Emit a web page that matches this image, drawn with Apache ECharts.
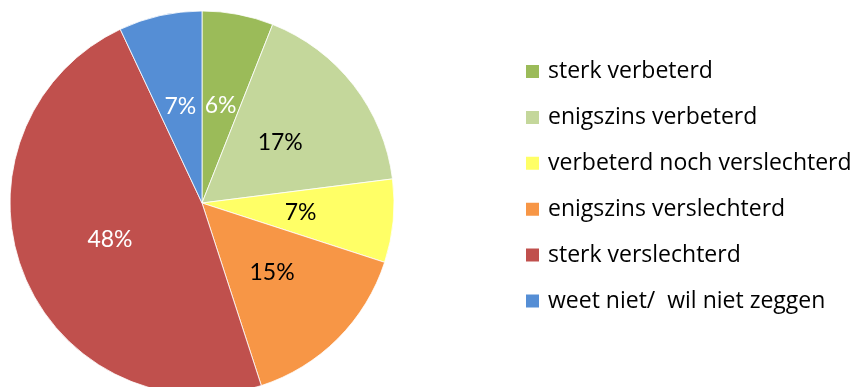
<!DOCTYPE html>
<html>
<head>
<meta charset="utf-8">
<script src="https://cdn.jsdelivr.net/npm/echarts@6/dist/echarts.min.js"></script>
<style>
  html, body { margin: 0; padding: 0; background: #fff; }
  #chart { width: 859px; height: 387px; }
</style>
</head>
<body>
<div id="chart"></div>
<script>
// Answer categories and their shares (percent)
const categories = [
  'sterk verbeterd',
  'enigszins verbeterd',
  'verbeterd noch verslechterd',
  'enigszins verslechterd',
  'sterk verslechterd',
  'weet niet/  wil niet zeggen'
];
const values = [6, 17, 7, 15, 48, 7];
const colors = ['#9bbb59', '#c4d79b', '#ffff66', '#f79646', '#c0504d', '#558ed5'];
const labelColors = ['#ffffff', '#000000', '#000000', '#000000', '#ffffff', '#ffffff'];

const data = categories.map((name, i) => ({
  name: name,
  value: values[i],
  itemStyle: { color: colors[i] },
  label: { color: labelColors[i] }
}));

const chart = echarts.init(document.getElementById('chart'));
chart.setOption({
  animation: false,
  legend: {
    orient: 'vertical',
    left: 524,
    top: 59.5,
    padding: 0,
    icon: 'rect',
    itemWidth: 15,
    itemHeight: 15,
    itemGap: 21.9,
    textStyle: {
      fontFamily: 'Open Sans',
      fontSize: 23,
      lineHeight: 24,
      color: '#000',
      padding: [0, 0, 0, 3]
    },
    data: categories
  },
  series: [{
    type: 'pie',
    center: [202, 203],
    radius: 192,
    startAngle: 90,
    clockwise: true,
    avoidLabelOverlap: false,
    itemStyle: { borderColor: '#ffffff', borderWidth: 0.8 },
    label: {
      show: true,
      position: 'inner',
      fontFamily: 'Lato',
      fontSize: 23,
      formatter: p => p.value + '%'
    },
    labelLine: { show: false },
    data: data
  }]
});
</script>
</body>
</html>
